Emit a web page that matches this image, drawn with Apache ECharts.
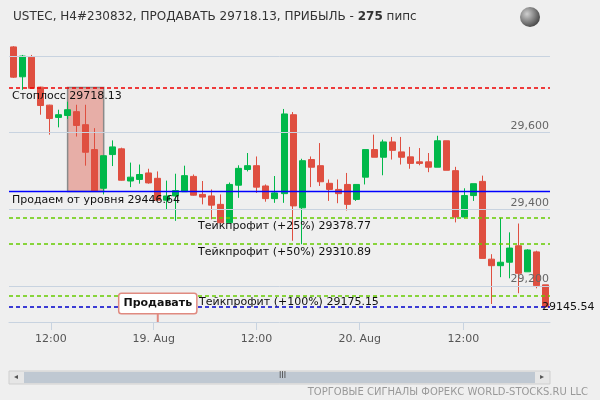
<!DOCTYPE html>
<html>
<head>
<meta charset="utf-8">
<script src="https://cdn.jsdelivr.net/npm/echarts@6/dist/echarts.min.js"></script>
<style>
  html, body { margin: 0; padding: 0; background: #efefef; }
  #chart { width: 600px; height: 400px; }
</style>
</head>
<body>
<div id="chart"></div>
<script>
// свечи H1: [open, close, low, high]
const candles = [
  [29824, 29745, 29743, 29826], [29746, 29800, 29712, 29803], [29797, 29716, 29716, 29803],
  [29719, 29671, 29647, 29720], [29672, 29637, 29595, 29673], [29640, 29647, 29614, 29660],
  [29645, 29660, 29636, 29681], [29655, 29619, 29590, 29673], [29621, 29549, 29514, 29673],
  [29556, 29448, 29447, 29612], [29455, 29540, 29439, 29540], [29543, 29563, 29513, 29580],
  [29558, 29476, 29475, 29561], [29474, 29484, 29458, 29522], [29478, 29491, 29467, 29517],
  [29495, 29469, 29467, 29506], [29481, 29424, 29423, 29499], [29424, 29435, 29400, 29475],
  [29435, 29449, 29370, 29493], [29446, 29488, 29446, 29514], [29486, 29437, 29436, 29491],
  [29439, 29432, 29413, 29474], [29435, 29411, 29374, 29452], [29413, 29365, 29365, 29439],
  [29365, 29465, 29365, 29470], [29463, 29507, 29430, 29515], [29504, 29514, 29499, 29547],
  [29514, 29458, 29443, 29538], [29461, 29428, 29420, 29465], [29428, 29443, 29417, 29487],
  [29441, 29649, 29417, 29662], [29647, 29409, 29318, 29654], [29404, 29527, 29309, 29532],
  [29530, 29510, 29458, 29538], [29514, 29472, 29461, 29573], [29468, 29452, 29422, 29478],
  [29452, 29441, 29416, 29478], [29465, 29413, 29397, 29495], [29426, 29465, 29422, 29465],
  [29484, 29556, 29465, 29556], [29556, 29536, 29536, 29595], [29536, 29576, 29489, 29582],
  [29576, 29554, 29530, 29589], [29550, 29536, 29517, 29589], [29537, 29520, 29506, 29563],
  [29524, 29520, 29515, 29560], [29524, 29510, 29497, 29547], [29510, 29579, 29510, 29592],
  [29579, 29502, 29502, 29579], [29501, 29380, 29366, 29511], [29380, 29436, 29376, 29455],
  [29436, 29467, 29422, 29467], [29473, 29272, 29272, 29488], [29270, 29253, 29153, 29283],
  [29253, 29262, 29223, 29378], [29262, 29299, 29220, 29340], [29305, 29233, 29181, 29363],
  [29237, 29294, 29237, 29296], [29289, 29201, 29194, 29292], [29203, 29145.54, 29145.54, 29203]
]
const categories = candles.map((c, i) => String(i))

// подписи оси времени (позиция в индексах свечей)
const timeTickPos = [4.15, 15.55, 26.95, 38.4, 49.9]
const timeTickLabels = ['12:00', '19. Aug', '12:00', '20. Aug', '12:00']

const gridValues = [29200, 29400, 29600, 29800]

const stopLoss = 29718.13
const entryLevel = 29446.64
const takeProfits = [29378.77, 29310.89, 29175.15]
const takeProfitNames = ['Тейкпрофит (+25%)', 'Тейкпрофит (+50%)', 'Тейкпрофит (+100%)']
const lastPrice = 29145.54

const font = 'DejaVu Sans'
const chart = echarts.init(document.getElementById('chart'))

// вспомогательная серия без точек — только горизонтальные уровни
const levelSeries = (value, color, type, width, label, z) => {
  const ls = { color: color, type: type, width: width, opacity: 1 }
  return {
    type: 'line', data: [], z: z || 1, silent: true, color: color,
    markLine: {
      silent: true, symbol: 'none', animation: false,
      lineStyle: ls, itemStyle: { color: color },
      label: label,
      data: [{ yAxis: value, lineStyle: ls, itemStyle: { color: color } }]
    }
  }
}

const series = [{
  type: 'candlestick',
  data: candles,
  barWidth: 6.5,
  z: 3,
  itemStyle: {
    color: '#00b84a', color0: '#df4f40',
    borderColor: '#00b84a', borderColor0: '#df4f40', borderWidth: 1
  },
  markArea: {
    silent: true,
    itemStyle: { color: 'rgba(224,120,108,0.55)', borderColor: '#8a8a8a', borderWidth: 1.5 },
    data: [[{ xAxis: '6', yAxis: stopLoss }, { xAxis: '10', yAxis: entryLevel }]]
  },
  markPoint: {
    silent: true,
    data: [{
      coord: ['16', 29106],
      symbol: 'rect', symbolSize: [2, 9], symbolOffset: [0, -4.5],
      itemStyle: { color: '#e08a80' },
      label: {
        show: true, position: 'top', distance: 0,
        formatter: 'Продавать', color: '#111', fontWeight: 'bold', fontSize: 11, fontFamily: font,
        backgroundColor: '#fff', borderColor: '#e08a80', borderWidth: 1.5, borderRadius: 2,
        padding: [4, 4]
      }
    }]
  }
}]

gridValues.forEach(v => series.push(levelSeries(v, '#c8d3e0', 'solid', 1, {
  show: v !== 29800, position: 'insideEndTop', color: '#666', fontSize: 11, fontFamily: font,
  distance: 1, formatter: () => v.toLocaleString('en-US')
}, 0)))

series.push(levelSeries(stopLoss, '#ee0000', [4, 3], 1.5, {
  show: true, position: 'insideStartBottom', color: '#111', fontSize: 11, fontFamily: font,
  distance: 3, formatter: () => 'Стоплосс ' + stopLoss.toFixed(2)
}, 2))

series.push(levelSeries(entryLevel, '#0000ff', 'solid', 1.3, {
  show: true, position: 'insideStartBottom', color: '#111', fontSize: 11, fontFamily: font,
  distance: 3, formatter: () => 'Продаем от уровня ' + entryLevel.toFixed(2)
}, 2))

takeProfits.forEach((v, i) => series.push(levelSeries(v, '#66cc00', [4, 3], 1.5, {
  show: true, position: 'insideStartBottom', color: '#111', fontSize: 11, fontFamily: font,
  padding: [0, 0, 0, i === 2 ? 189 : 186], distance: i === 2 ? 1 : 3,
  formatter: () => takeProfitNames[i] + ' ' + v.toFixed(2)
}, 2)))

series.push(levelSeries(lastPrice, '#0000cc', [4, 3], 1.5, {
  show: true, position: 'end', color: '#111', fontSize: 11, fontFamily: font,
  distance: -8, formatter: () => lastPrice.toFixed(2)
}, 2))

const option = {
  backgroundColor: '#efefef',
  animation: false,
  title: {
    text: 'USTEC, H4#230832, ПРОДАВАТЬ 29718.13, ПРИБЫЛЬ - {b|275} пипс',
    left: 8, top: 6,
    textStyle: {
      fontSize: 12, fontWeight: 'normal', color: '#333', fontFamily: font,
      rich: { b: { fontSize: 12, fontWeight: 'bold', color: '#333', fontFamily: font } }
    }
  },
  grid: { left: 9, right: 50, top: 40, bottom: 78 },
  xAxis: [{
    type: 'category', data: categories, boundaryGap: true,
    axisLine: { lineStyle: { color: '#c8d3e0' } },
    axisTick: { show: false }, axisLabel: { show: false }, splitLine: { show: false }
  }, {
    type: 'value', min: -0.5, max: candles.length - 0.5, position: 'bottom',
    axisLine: { show: false },
    splitLine: { show: false },
    axisTick: { show: true, customValues: timeTickPos, length: 8, lineStyle: { color: '#c8d3e0' } },
    axisLabel: {
      customValues: timeTickPos, color: '#555', fontSize: 11, fontFamily: font, margin: 12,
      formatter: v => timeTickLabels[timeTickPos.indexOf(v)] || ''
    }
  }],
  yAxis: {
    type: 'value', min: 29106, max: 29842, show: false, splitLine: { show: false }
  },
  series: series,
  graphic: [
    // глобус в углу
    { type: 'circle', shape: { cx: 530, cy: 17, r: 10 },
      style: { fill: new echarts.graphic.RadialGradient(0.35, 0.35, 0.8, [
        { offset: 0, color: '#cfcfcf' }, { offset: 1, color: '#333' }]) } },
    // полоса прокрутки
    { type: 'rect', shape: { x: 9, y: 371, width: 541, height: 13 }, style: { fill: '#e6e6e6', stroke: '#cfcfcf' } },
    { type: 'rect', shape: { x: 24, y: 372, width: 511, height: 11 }, style: { fill: '#bfc8d2' } },
    { type: 'text', x: 279, y: 372, style: { text: 'III', fontSize: 8, fill: '#444', fontFamily: font } },
    { type: 'text', x: 14, y: 373, style: { text: '◂', fontSize: 8, fill: '#555' } },
    { type: 'text', x: 540, y: 373, style: { text: '▸', fontSize: 8, fill: '#555' } },
    { type: 'text', right: 12, top: 387, style: { text: 'ТОРГОВЫЕ СИГНАЛЫ ФОРЕКС WORLD-STOCKS.RU LLC', fontSize: 10, fill: '#999', fontFamily: font } }
  ]
}

chart.setOption(option)
</script>
</body>
</html>
